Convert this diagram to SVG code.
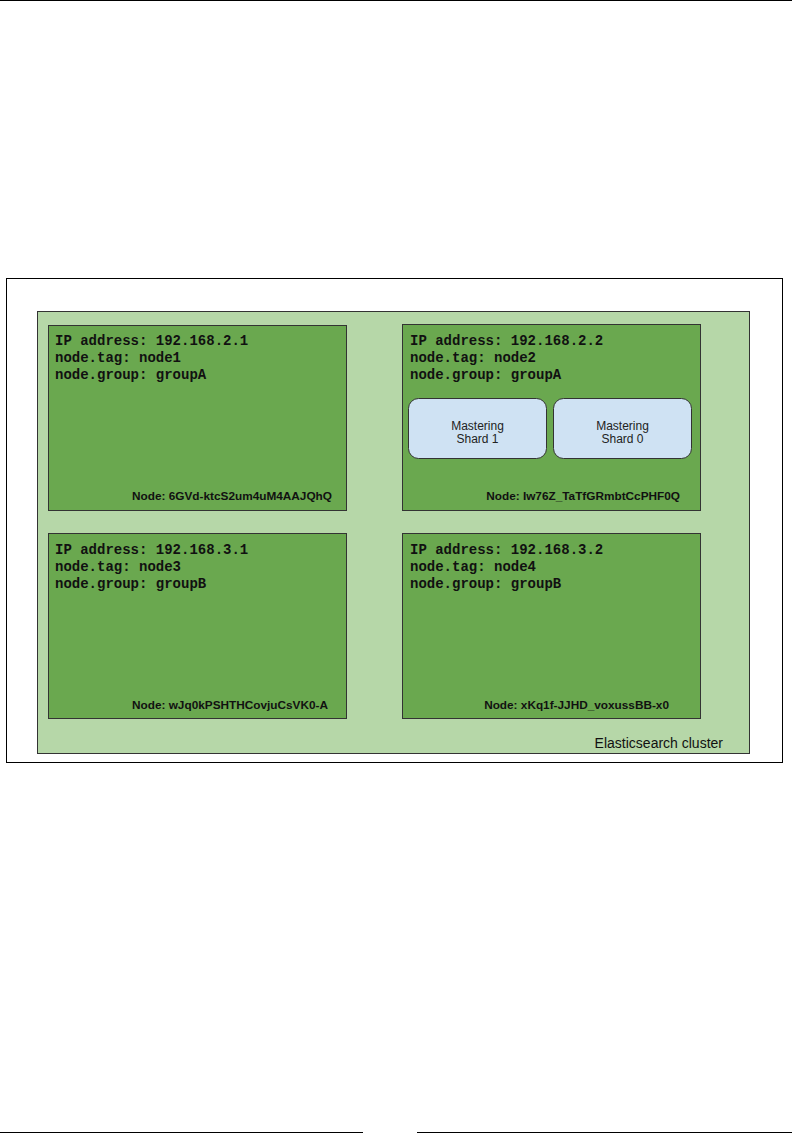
<svg xmlns="http://www.w3.org/2000/svg" width="792" height="1142" viewBox="0 0 792 1142">
<style>
.node{fill:#6aa84f;stroke:#333;stroke-width:1}
.mono{font-family:"Liberation Mono","Courier New",monospace;font-weight:bold;font-size:14px;fill:#111}
.id{font-family:"Liberation Sans",Arial,sans-serif;font-weight:bold;font-size:11.8px;fill:#111;text-anchor:end}
.shard{fill:#cfe2f3;stroke:#333;stroke-width:1}
.st{font-family:"Liberation Sans",Arial,sans-serif;font-size:12px;fill:#222;text-anchor:middle}
</style>
<rect width="792" height="1142" fill="#fff"/>
<line x1="0" y1="0.5" x2="792" y2="0.5" stroke="#000" stroke-width="1"/>
<line x1="0" y1="1132.5" x2="363" y2="1132.5" stroke="#000" stroke-width="1"/>
<line x1="417" y1="1132.5" x2="792" y2="1132.5" stroke="#000" stroke-width="1"/>
<rect x="6.5" y="278.5" width="776" height="484" fill="#fff" stroke="#000" stroke-width="1"/>
<g id="cluster">
<rect x="37.5" y="311.5" width="712" height="442" fill="#b6d7a8" stroke="#333" stroke-width="1"/>
<text x="723" y="748" font-family="'Liberation Sans',Arial,sans-serif" font-size="14" fill="#111" text-anchor="end">Elasticsearch cluster</text>
</g>
<g id="node1">
<rect class="node" x="48.5" y="325.5" width="298" height="185"/>
<text class="mono" x="55" y="345">IP address: 192.168.2.1</text>
<text class="mono" x="55" y="362">node.tag: node1</text>
<text class="mono" x="55" y="379">node.group: groupA</text>
<text class="id" x="332" y="500">Node: 6GVd-ktcS2um4uM4AAJQhQ</text>
</g>
<g id="node2">
<rect class="node" x="402.5" y="324.5" width="298" height="186"/>
<text class="mono" x="410" y="345">IP address: 192.168.2.2</text>
<text class="mono" x="410" y="362">node.tag: node2</text>
<text class="mono" x="410" y="379">node.group: groupA</text>
<text class="id" x="680" y="500">Node: Iw76Z_TaTfGRmbtCcPHF0Q</text>
</g>
<g id="shard1">
<rect class="shard" x="408.5" y="398.5" width="138" height="60" rx="10"/>
<text class="st" x="477.5" y="430">Mastering</text>
<text class="st" x="477.5" y="443">Shard 1</text>
</g>
<g id="shard0">
<rect class="shard" x="553.5" y="398.5" width="138" height="60" rx="10"/>
<text class="st" x="622.5" y="430">Mastering</text>
<text class="st" x="622.5" y="443">Shard 0</text>
</g>
<g id="node3">
<rect class="node" x="48.5" y="533.5" width="298" height="185"/>
<text class="mono" x="55" y="554">IP address: 192.168.3.1</text>
<text class="mono" x="55" y="571">node.tag: node3</text>
<text class="mono" x="55" y="588">node.group: groupB</text>
<text class="id" x="328" y="709">Node: wJq0kPSHTHCovjuCsVK0-A</text>
</g>
<g id="node4">
<rect class="node" x="402.5" y="533.5" width="298" height="185"/>
<text class="mono" x="410" y="554">IP address: 192.168.3.2</text>
<text class="mono" x="410" y="571">node.tag: node4</text>
<text class="mono" x="410" y="588">node.group: groupB</text>
<text class="id" x="669" y="709">Node: xKq1f-JJHD_voxussBB-x0</text>
</g>
<g id="connectors"></g>
</svg>
